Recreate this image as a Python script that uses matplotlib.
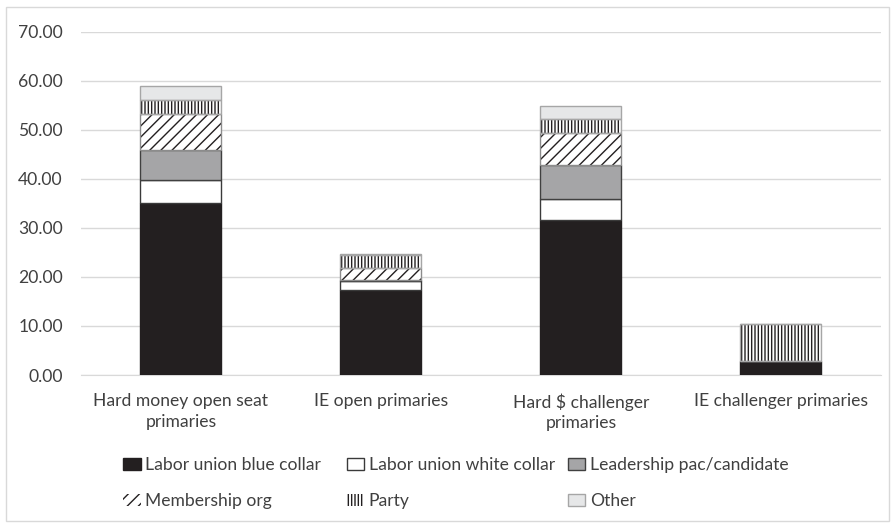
import matplotlib.pyplot as plt
import numpy as np
from matplotlib.patches import Rectangle

plt.rcParams['font.family'] = ['Lato', 'DejaVu Sans']
plt.rcParams['hatch.linewidth'] = 1.0

# chart data
categories = ['Hard money open seat\nprimaries', 'IE open primaries',
              'Hard $ challenger\nprimaries', 'IE challenger primaries']
series_names = ['Labor union blue collar', 'Labor union white collar',
                'Leadership pac/candidate', 'Membership org', 'Party', 'Other']
blue_collar = [35.1, 17.3, 31.6, 2.8]
white_collar = [4.7, 1.8, 4.35, 0.0]
leadership = [6.1, 0.3, 6.95, 0.0]
membership = [7.3, 2.5, 6.5, 0.0]
party = [2.9, 2.6, 2.7, 7.5]
other = [2.9, 0.2, 2.75, 0.0]
y_ticks = [0, 10, 20, 30, 40, 50, 60, 70]

values = [blue_collar, white_collar, leadership, membership, party, other]
fills = ['#231f20', 'white', '#a5a5a7', 'white', 'white', '#e6e7e8']
hatches = [None, None, None, '///', '|||||', None]
edges = ['#231f20', '#3a3a3a', '#404040', '#8c8c8c', '#a6a6a6', '#a6a6a6']

text_col = '#404040'
grid_col = '#d9d9d9'
fs = 12.6

fig = plt.figure(figsize=(8.95, 5.26), dpi=100)
ax = fig.add_axes([81 / 895, 1 - 375 / 526, 800 / 895, (375 - 31.7) / 526])

x = np.arange(len(categories))
width = 0.405
bottom = np.zeros(len(categories))
handles = []
for name, vals, fc, h, ec in zip(series_names, values, fills, hatches, edges):
    vals = np.array(vals)
    if h is None:
        bars = ax.bar(x, vals, width, bottom=bottom, color=fc, edgecolor=ec,
                      linewidth=1, label=name, zorder=3)
    else:
        # hatch takes the edge colour, so draw the outline separately
        bars = ax.bar(x, vals, width, bottom=bottom, color=fc, edgecolor='#231f20',
                      hatch=h, linewidth=0, label=name, zorder=3)
        ax.bar(x, vals, width, bottom=bottom, fill=False, edgecolor=ec,
               linewidth=1, zorder=4)
    handles.append(bars)
    bottom += vals

ax.set_xlim(-0.5, len(categories) - 0.5)
ax.set_ylim(0, 70)
ax.set_yticks(y_ticks)
ax.set_yticklabels([f'{v:.2f}' for v in y_ticks])
ax.set_xticks(x)
ax.set_xticklabels(categories, linespacing=1.35)
ax.tick_params(axis='both', length=0, labelsize=fs, colors=text_col)
ax.tick_params(axis='x', pad=13)
ax.tick_params(axis='y', pad=13)
ax.yaxis.grid(True, color=grid_col, linewidth=1, zorder=0)
ax.set_axisbelow(True)
for s in ['top', 'right', 'left']:
    ax.spines[s].set_visible(False)
ax.spines['bottom'].set_color(grid_col)
ax.spines['bottom'].set_zorder(2)

# legend: three columns placed like the original
col_x = [123, 347, 568]
for i, cx in enumerate(col_x):
    hs = [handles[i], handles[i + 3]]
    ls = [series_names[i], series_names[i + 3]]
    fig.legend(hs, ls, loc='center left', bbox_to_anchor=(cx / 895, 1 - 483 / 526),
               frameon=False, fontsize=fs, handlelength=1.0, handleheight=0.72,
               handletextpad=0.25, borderpad=0, borderaxespad=0, labelspacing=1.15,
               labelcolor=text_col)

# chart area border
fig.patches.append(Rectangle((6 / 895, 5 / 526), 883 / 895, 514 / 526,
                             transform=fig.transFigure, fill=False,
                             edgecolor=grid_col, linewidth=1))

fig.savefig('out.png', dpi=100)
